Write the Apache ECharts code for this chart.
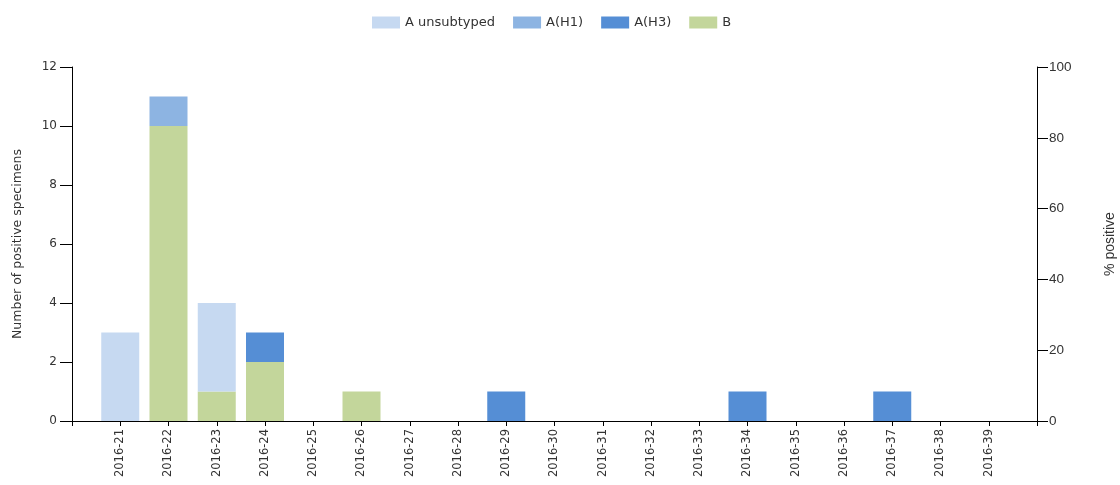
<!DOCTYPE html>
<html><head><meta charset="utf-8">
<script src="https://cdn.jsdelivr.net/npm/echarts@6/dist/echarts.min.js"></script>
<style>html,body{margin:0;padding:0;background:#fff}#c{width:1120px;height:485px}</style>
</head><body><div id="c"></div>
<script>
var categories = ['', '2016-21','2016-22','2016-23','2016-24','2016-25','2016-26','2016-27','2016-28','2016-29','2016-30','2016-31','2016-32','2016-33','2016-34','2016-35','2016-36','2016-37','2016-38','2016-39', ''];
var aUnsubtyped = [null, 3,0,3,0,0,0,0,0,0,0,0,0,0,0,0,0,0,0,0, null];
var aH1 =         [null, 0,1,0,0,0,0,0,0,0,0,0,0,0,0,0,0,0,0,0, null];
var aH3 =         [null, 0,0,0,1,0,0,0,0,1,0,0,0,0,1,0,0,1,0,0, null];
var bVals =       [null, 0,10,1,2,0,1,0,0,0,0,0,0,0,0,0,0,0,0,0, null];
var leftTicks = [0, 12, 2];
var rightTicks = [0, 100, 20];

var chart = echarts.init(document.getElementById('c'));
var lblFont = 'DejaVu Sans';
function bar(name, data, color) {
  return { name: name, type: 'bar', stack: 'total',
    data: data.map(function (v) { return v === 0 ? null : v; }), barWidth: 38,
    itemStyle: { color: color }, yAxisIndex: 0, silent: true };
}
chart.setOption({
  animation: false,
  legend: {
    top: 11, left: 367, itemWidth: 28, itemHeight: 12, itemGap: 18,
    icon: 'rect',
    data: ['A unsubtyped', 'A(H1)', 'A(H3)', 'B'],
    textStyle: { fontFamily: lblFont, fontSize: 13, color: '#333' }
  },
  grid: { left: 72, right: 83, top: 67, bottom: 64, outerBoundsMode: 'none', containLabel: false },
  xAxis: {
    type: 'category', data: categories, boundaryGap: false,
    axisLine: { lineStyle: { color: '#000', width: 1 } },
    axisTick: { alignWithLabel: true, length: 5, lineStyle: { color: '#000' } },
    axisLabel: { rotate: 90, interval: 0, fontFamily: lblFont, fontSize: 11.5, color: '#333', margin: 8 }
  },
  yAxis: [{
    type: 'value', min: leftTicks[0], max: leftTicks[1], interval: leftTicks[2],
    name: 'Number of positive specimens', nameLocation: 'middle', nameGap: 48, nameRotate: 90,
    nameTextStyle: { fontFamily: lblFont, fontSize: 12.5, color: '#333' },
    axisLine: { show: true, lineStyle: { color: '#000' } },
    axisTick: { show: true, length: 12, lineStyle: { color: '#000' } },
    splitLine: { show: false },
    axisLabel: { fontFamily: lblFont, fontSize: 12, color: '#333', margin: 15 }
  }, {
    type: 'value', position: 'right', min: rightTicks[0], max: rightTicks[1], interval: rightTicks[2],
    name: '% positive', nameLocation: 'middle', nameGap: 66, nameRotate: 90,
    nameTextStyle: { fontFamily: 'Liberation Sans', fontSize: 14, color: '#333' },
    axisLine: { show: true, lineStyle: { color: '#000' } },
    axisTick: { show: true, length: 11, lineStyle: { color: '#000' } },
    splitLine: { show: false },
    axisLabel: { fontFamily: 'Liberation Sans', fontSize: 13.5, color: '#333', margin: 12 }
  }],
  series: [
    bar('B', bVals, '#c3d69b'),
    bar('A unsubtyped', aUnsubtyped, '#c6d9f1'),
    bar('A(H1)', aH1, '#8db4e2'),
    bar('A(H3)', aH3, '#558ed5')
  ]
});
</script></body></html>
